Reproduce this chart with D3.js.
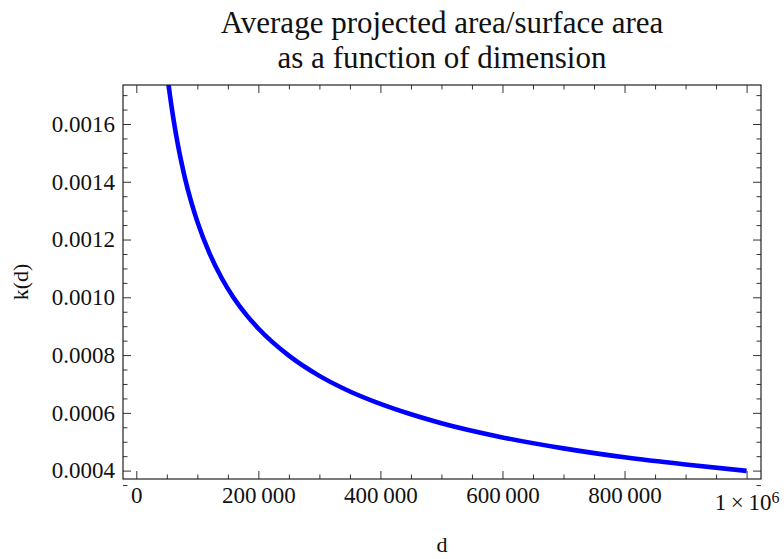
<!DOCTYPE html>
<html>
<head>
<meta charset="utf-8">
<script src="https://cdn.jsdelivr.net/npm/d3@7"></script>
<style>
  body { margin: 0; background: #fff; }
</style>
</head>
<body>
<div id="chart"></div>
<script>
// values
const dValues = [50000, 55000, 60000, 65000, 70000, 75000, 80000, 90000, 100000, 120000,
  140000, 160000, 180000, 200000, 250000, 300000, 350000, 400000, 450000, 500000,
  600000, 700000, 800000, 900000, 1000000];
const kValues = [0.001784, 0.001701, 0.001629, 0.001565, 0.001508, 0.001457, 0.001410, 0.001330, 0.001262, 0.001152,
  0.001066, 0.000997, 0.000940, 0.000892, 0.000798, 0.000728, 0.000674, 0.000631, 0.000595, 0.000564,
  0.000515, 0.000477, 0.000446, 0.000421, 0.000399];

const xTicks = [0, 200000, 400000, 600000, 800000, 1000000];
const yTicks = [0.0004, 0.0006, 0.0008, 0.0010, 0.0012, 0.0014, 0.0016];
const titleLines = ["Average projected area/surface area", "as a function of dimension"];

const serif = "'Liberation Serif', 'DejaVu Serif', serif";

const width = 784, height = 559;
const margin = {top: 85, right: 23, bottom: 80, left: 123};

const svg = d3.select("#chart")
  .append("svg")
  .attr("width", width)
  .attr("height", height)
  .style("font-family", serif);

const x = d3.scaleLinear()
  .domain([-21800, 1023600])
  .range([margin.left, width - margin.right]);

const y = d3.scaleLinear()
  .domain([0.000371, 0.001735])
  .range([height - margin.bottom, margin.top]);

// minor tick positions
const xMinor = d3.range(0, 1000001, 50000).filter(v => xTicks.indexOf(v) < 0);
const yMinor = d3.range(0.00035, 0.00175, 0.00005).map(v => +v.toFixed(5))
  .filter(v => !yTicks.some(t => Math.abs(t - v) < 1e-9));

const fmtX = v => d3.format(",")(v).replace(/,/g, "\u2009");
const fmtY = d3.format(".4f");

const bottom = height - margin.bottom;
const right = width - margin.right;

// bottom axis
const gx = svg.append("g")
  .attr("transform", `translate(0,${bottom})`)
  .call(d3.axisBottom(x).tickValues(xTicks).tickSize(-8).tickPadding(8).tickFormat(fmtX));
svg.append("g")
  .attr("transform", `translate(0,${bottom})`)
  .call(d3.axisBottom(x).tickValues(xMinor).tickSize(-4.5).tickFormat(""));

// top axis (ticks only)
svg.append("g")
  .attr("transform", `translate(0,${margin.top})`)
  .call(d3.axisTop(x).tickValues(xTicks).tickSize(-8).tickFormat(""));
svg.append("g")
  .attr("transform", `translate(0,${margin.top})`)
  .call(d3.axisTop(x).tickValues(xMinor).tickSize(-4.5).tickFormat(""));

// left axis
svg.append("g")
  .attr("transform", `translate(${margin.left},0)`)
  .call(d3.axisLeft(y).tickValues(yTicks).tickSize(-8).tickPadding(8).tickFormat(fmtY));
svg.append("g")
  .attr("transform", `translate(${margin.left},0)`)
  .call(d3.axisLeft(y).tickValues(yMinor).tickSize(-4.5).tickFormat(""));

// right axis (ticks only)
svg.append("g")
  .attr("transform", `translate(${right},0)`)
  .call(d3.axisRight(y).tickValues(yTicks).tickSize(-8).tickFormat(""));
svg.append("g")
  .attr("transform", `translate(${right},0)`)
  .call(d3.axisRight(y).tickValues(yMinor).tickSize(-4.5).tickFormat(""));

svg.selectAll(".domain").remove();
svg.selectAll("g").attr("font-family", serif).attr("font-size", 23);
svg.selectAll(".tick line").attr("stroke", "#333").attr("stroke-width", 1);
svg.selectAll(".tick text").attr("fill", "#111");

// the 1x10^6 label
gx.selectAll(".tick text").filter(d => d === 1000000)
  .text(null)
  .attr("dy", "1.0em")
  .call(t => {
    t.append("tspan").text("1\u2009\u00d7\u200910");
    t.append("tspan").attr("dy", "-0.45em").attr("font-size", 16).text("6");
  });

// frame
svg.append("rect")
  .attr("x", margin.left)
  .attr("y", margin.top)
  .attr("width", right - margin.left)
  .attr("height", bottom - margin.top)
  .attr("fill", "none")
  .attr("stroke", "#222")
  .attr("stroke-width", 1.2);

// curve
svg.append("clipPath").attr("id", "clip")
  .append("rect")
  .attr("x", margin.left)
  .attr("y", margin.top)
  .attr("width", right - margin.left)
  .attr("height", bottom - margin.top);

const line = d3.line()
  .x((d, i) => x(dValues[i]))
  .y((d, i) => y(kValues[i]))
  .curve(d3.curveMonotoneX);

svg.append("path")
  .attr("clip-path", "url(#clip)")
  .attr("d", line(dValues))
  .attr("fill", "none")
  .attr("stroke", "#0000ff")
  .attr("stroke-width", 4.6);

// titles
svg.append("g").selectAll("text")
  .data(titleLines)
  .join("text")
  .attr("x", (margin.left + right) / 2)
  .attr("y", (d, i) => 33 + i * 35)
  .attr("text-anchor", "middle")
  .attr("font-family", serif)
  .attr("font-size", 31)
  .attr("fill", "#111")
  .text(d => d);

svg.append("text")
  .attr("x", (margin.left + right) / 2)
  .attr("y", 552)
  .attr("text-anchor", "middle")
  .attr("font-family", serif)
  .attr("font-size", 22)
  .attr("fill", "#111")
  .text("d");

svg.append("text")
  .attr("transform", `translate(28,${(margin.top + bottom) / 2}) rotate(-90)`)
  .attr("text-anchor", "middle")
  .attr("font-family", serif)
  .attr("font-size", 22)
  .attr("fill", "#111")
  .text("k(d)");
</script>
</body>
</html>
